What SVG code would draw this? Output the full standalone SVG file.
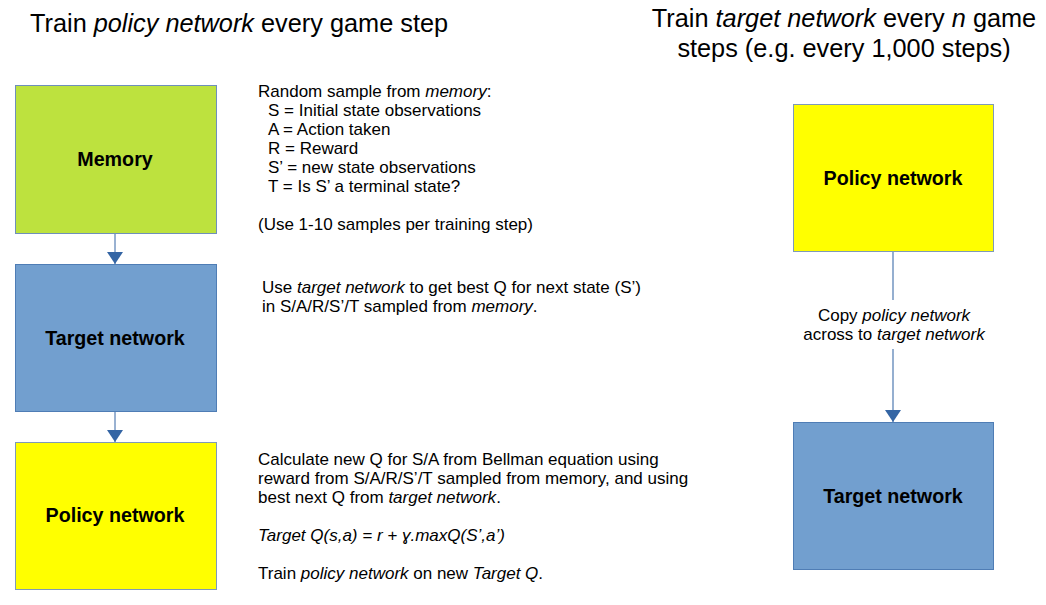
<svg xmlns="http://www.w3.org/2000/svg" width="1046" height="605" viewBox="0 0 1046 605">
<style>
text{font-family:"Liberation Sans",Arial,sans-serif;fill:#000}
.title{font-size:25.3px}
.lbl{font-size:19.7px;font-weight:bold;text-anchor:middle}
.body{font-size:17px}
.c{text-anchor:middle}
.i{font-style:italic}
.green{fill:#bde23e;stroke:#6f8fba;stroke-width:1}
.yellow{fill:#ffff00;stroke:#7f9ab8;stroke-width:1}
.blue{fill:#729fcf;stroke:#4f7db5;stroke-width:1}
</style>
<defs>
<marker id="ah" viewBox="0 0 12 16" refX="12" refY="8" markerWidth="12" markerHeight="16" markerUnits="userSpaceOnUse" orient="auto">
<path d="M0,0 L12,8 L0,16 Z" fill="#3465a4"/>
</marker>
</defs>
<rect width="1046" height="605" fill="#fff"/>
<text class="title" x="30" y="32">Train <tspan class="i">policy network</tspan> every game step</text>
<text class="title c" x="844" y="27">Train <tspan class="i">target network</tspan> every <tspan class="i">n</tspan> game</text>
<text class="title c" x="844" y="57">steps (e.g. every 1,000 steps)</text>

<g id="connectors">
<line x1="115" y1="233" x2="115" y2="264" stroke="#3465a4" stroke-width="1" marker-end="url(#ah)"/>
<line x1="115" y1="411" x2="115" y2="442" stroke="#3465a4" stroke-width="1" marker-end="url(#ah)"/>
<line x1="893" y1="251" x2="893" y2="300" stroke="#95afd0" stroke-width="2"/>
<line x1="893" y1="349" x2="893" y2="422" stroke="#95afd0" stroke-width="2" marker-end="url(#ah)"/>
<text class="body c" x="894" y="321">Copy <tspan class="i">policy network</tspan></text>
<text class="body c" x="894" y="340">across to <tspan class="i">target network</tspan></text>
</g>

<g id="memory">
<rect class="green" x="15.5" y="85.5" width="201" height="148"/>
<text class="lbl" x="115" y="166">Memory</text>
</g>
<g id="target-left">
<rect class="blue" x="15.5" y="264.5" width="201" height="147"/>
<text class="lbl" x="115" y="345">Target network</text>
</g>
<g id="policy-left">
<rect class="yellow" x="15.5" y="442.5" width="201" height="147"/>
<text class="lbl" x="115" y="522">Policy network</text>
</g>
<g id="policy-right">
<rect class="yellow" x="793.5" y="104.5" width="200" height="147"/>
<text class="lbl" x="893" y="185">Policy network</text>
</g>
<g id="target-right">
<rect class="blue" x="793.5" y="422.5" width="200" height="147"/>
<text class="lbl" x="893" y="503">Target network</text>
</g>

<g id="notes">
<text class="body" x="258" y="97">Random sample from <tspan class="i">memory</tspan>:</text>
<text class="body" x="268" y="116">S = Initial state observations</text>
<text class="body" x="268" y="135">A = Action taken</text>
<text class="body" x="268" y="154">R = Reward</text>
<text class="body" x="268" y="173">S’ = new state observations</text>
<text class="body" x="268" y="192">T = Is S’ a terminal state?</text>
<text class="body" x="258" y="230">(Use 1-10 samples per training step)</text>

<text class="body" x="262" y="293">Use <tspan class="i">target network</tspan> to get best Q for next state (S’)</text>
<text class="body" x="262" y="312">in S/A/R/S’/T sampled from <tspan class="i">memory</tspan>.</text>

<text class="body" x="258" y="465">Calculate new Q for S/A from Bellman equation using</text>
<text class="body" x="258" y="484">reward from S/A/R/S’/T sampled from memory, and using</text>
<text class="body" x="258" y="503">best next Q from <tspan class="i">target network</tspan>.</text>
<text class="body i" x="258" y="541">Target Q(s,a) = r + ɣ.maxQ(S’,a’)</text>
<text class="body" x="258" y="579">Train <tspan class="i">policy network</tspan> on new <tspan class="i">Target Q</tspan>.</text>
</g>
</svg>
